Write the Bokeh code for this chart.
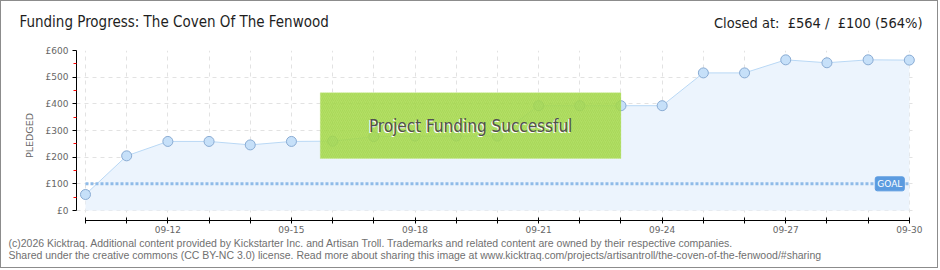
from bokeh.plotting import figure
from bokeh.models import Range1d, FixedTicker, Label, BoxAnnotation, ColumnDataSource, Title
from bokeh.embed import file_html
from bokeh.resources import INLINE

# ---- data ----
dates = ["09-10", "09-11", "09-12", "09-13", "09-14", "09-15", "09-16", "09-17", "09-18", "09-19",
         "09-20", "09-21", "09-22", "09-23", "09-24", "09-25", "09-26", "09-27", "09-28", "09-29", "09-30"]
pledged = [60, 205, 259, 259, 246, 259, 260, 277, 279, 279,
           279, 393, 393, 393, 393, 516, 516, 565, 554, 565, 564]
goal = 100
y_ticks = [0, 100, 200, 300, 400, 500, 600]
y_minor = [50, 150, 250, 350, 450, 550]
x_label_every = 3
title_text = "Funding Progress: The Coven Of The Fenwood"
closed_text = "Closed at:\u00a0 \u00a3564 /\u00a0 \u00a3100 (564%)"
status_text = "Project Funding Successful"
footer1 = "(c)2026 Kicktraq. Additional content provided by Kickstarter Inc. and Artisan Troll. Trademarks and related content are owned by their respective companies."
footer2 = "Shared under the creative commons (CC BY-NC 3.0) license. Read more about sharing this image at www.kicktraq.com/projects/artisantroll/the-coven-of-the-fenwood/#sharing"

idx = list(range(len(dates)))
n = len(dates) - 1
src = ColumnDataSource(dict(x=idx, y=pledged, y0=[0] * len(idx)))

W, H = 938, 268
p = figure(width=W, height=H, output_backend="svg", toolbar_location=None,
           x_range=Range1d(-0.218, n + 0.15), y_range=Range1d(-37.5, 600),
           min_border_left=75, min_border_right=24, min_border_top=49, min_border_bottom=49,
           background_fill_color="white", border_fill_color="white",
           styles={"border": "1px solid #8c8c8c"})
p.outline_line_color = None

# area + line + points
p.varea(x="x", y1="y0", y2="y", source=src, fill_color="#ecf4fd")
p.line(x="x", y="y", source=src, line_color="#b9d8f5", line_width=1)

# goal line
p.line(x=[idx[0], idx[-1]], y=[goal, goal], line_color="#8fbbe8", line_width=3, line_dash="3 2")

p.scatter(x="x", y="y", source=src, size=10, fill_color="#c6e0f9", line_color="#89abd3", line_width=1)

# axes
xa = p.xaxis[0]
xa.ticker = FixedTicker(ticks=idx)
xa.major_label_overrides = {i: (dates[i] if (i % x_label_every == 2) else "") for i in idx}
xa.bounds = (idx[0], idx[-1])
xa.axis_line_color = "black"
xa.major_tick_line_color = "black"
xa.major_tick_in = 3
xa.major_tick_out = 3
xa.minor_tick_line_color = None
xa.major_label_text_font = "DejaVu Sans"
xa.major_label_text_font_size = "9px"
xa.major_label_text_color = "#666666"
xa.major_label_standoff = 2

ya = p.yaxis[0]
ya.ticker = FixedTicker(ticks=y_ticks, minor_ticks=y_minor)
ya.major_label_overrides = {v: "\u00a3%d" % v for v in y_ticks}
ya.bounds = (y_ticks[0], y_ticks[-1])
ya.axis_line_color = "black"
ya.major_tick_line_color = "black"
ya.major_tick_in = 0
ya.major_tick_out = 4
ya.minor_tick_line_color = "red"
ya.minor_tick_in = 0
ya.minor_tick_out = 3
ya.major_label_text_font = "DejaVu Sans"
ya.major_label_text_font_size = "9px"
ya.major_label_text_color = "#666666"
ya.major_label_standoff = 4
ya.axis_label = "PLEDGED"
ya.axis_label_text_font = "DejaVu Sans"
ya.axis_label_text_font_size = "9.5px"
ya.axis_label_text_font_style = "normal"
ya.axis_label_text_color = "#666666"
ya.axis_label_standoff = 8

for g in (p.xgrid[0], p.ygrid[0]):
    g.grid_line_color = "#e2e2e2"
    g.grid_line_dash = "4 4"
    g.grid_line_width = 1

# goal tag
p.add_layout(Label(x=idx[-1], y=goal, x_offset=-5, text="GOAL", text_align="right", text_baseline="middle",
                   text_color="white", text_font="DejaVu Sans", text_font_size="9px",
                   background_fill_color="#5b9be0", border_line_color="#5b9be0", padding=2,
                   border_radius=2))

# status box
p.add_layout(BoxAnnotation(left=5.7, right=13.0, bottom=195, top=442, fill_color="#a6da4c", fill_alpha=0.86,
                           line_color="#c2e786", line_width=1, hatch_pattern="/", hatch_color="#98cc42",
                           hatch_alpha=0.35, hatch_scale=4, level="overlay"))
for off, col in ((-1, "white"), (0, "#505050")):
    p.add_layout(Label(x=9.35, y=318, x_offset=off, y_offset=-abs(off), text=status_text, text_align="center",
                       text_baseline="middle", text_color=col, text_font="DejaVu Sans Condensed",
                       text_font_size="17px", level="overlay"))

# header: spacer + two titles drawn on one row
HDR_FONT = "DejaVu Sans Condensed"
p.add_layout(Title(text="\u00a0", standoff=9, text_font=HDR_FONT, text_font_size="15px",
                   text_font_style="normal", text_color="white"), "above")
p.add_layout(Title(text=closed_text, align="right", offset=-7, standoff=-19,
                   text_font=HDR_FONT, text_font_size="14.5px", text_font_style="normal",
                   text_color="#1e1e1e"), "above")
p.title.text = title_text
p.title.align = "left"
p.title.offset = -57
p.title.standoff = -19
p.title.text_font = HDR_FONT
p.title.text_font_size = "15px"
p.title.text_font_style = "normal"
p.title.text_color = "#1e1e1e"

# footer
p.add_layout(Title(text=footer1, align="left", offset=-68, standoff=-1, text_font="Liberation Sans",
                   text_font_size="10.5px", text_font_style="normal", text_color="#707070"), "below")
p.add_layout(Title(text=footer2, align="left", offset=-68, standoff=-4, text_font="Liberation Sans",
                   text_font_size="10.5px", text_font_style="normal", text_color="#707070"), "below")

open("out.html", "w").write(file_html(p, INLINE))
